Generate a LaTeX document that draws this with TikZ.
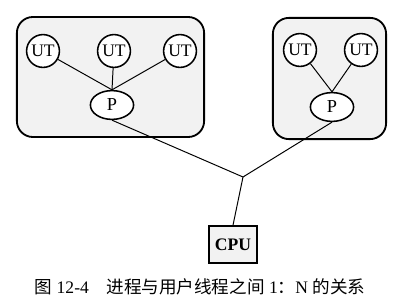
\documentclass[tikz,border=0pt]{standalone}
\usepackage{fontspec}
\setmainfont{Liberation Serif}
\newfontfamily\cjk{Noto Sans CJK SC}
\usepackage{tikz}
\usetikzlibrary{positioning,calc,shapes.geometric}
\colorlet{boxGray}{gray!10}

\begin{document}
\begin{tikzpicture}[x=0.025cm, y=-0.025cm, every node/.style={font=\fontsize{12.5}{14}\selectfont}, line width=0.7pt]
                \useasboundingbox (0,0) rectangle (414,308);
                % process boxes
                \node[draw, line width=1.3pt, rounded corners=0.4cm, fill=boxGray, minimum width=4.68cm, minimum height=3cm] (box1) at (110.5,77) {};
                \node[draw, line width=1.3pt, rounded corners=0.4cm, fill=boxGray, minimum width=2.83cm, minimum height=3.03cm] (box2) at (329.5,78.5) {};
                % user threads
                \node[draw, line width=1.1pt, circle, fill=white, minimum size=0.82cm, inner sep=0pt] (ut1) at (43,51) {UT};
                \node[draw, line width=1.1pt, circle, fill=white, minimum size=0.82cm, inner sep=0pt] (ut2) at (114,51) {UT};
                \node[draw, line width=1.1pt, circle, fill=white, minimum size=0.82cm, inner sep=0pt] (ut3) at (180,51) {UT};
                \node[draw, line width=1.1pt, circle, fill=white, minimum size=0.82cm, inner sep=0pt] (ut4) at (300,50) {UT};
                \node[draw, line width=1.1pt, circle, fill=white, minimum size=0.82cm, inner sep=0pt] (ut5) at (361,50) {UT};
                % processes
                \node[draw, line width=1.1pt, ellipse, fill=white, minimum width=1.08cm, minimum height=0.72cm, inner sep=0pt, font=\fontsize{13}{15}\selectfont] (p1) at (112,105) {P};
                \node[draw, line width=1.1pt, ellipse, fill=white, minimum width=1.08cm, minimum height=0.72cm, inner sep=0pt, font=\fontsize{13}{15}\selectfont] (p2) at (332,107) {P};
                \node[draw, line width=1.3pt, fill=boxGray, minimum width=1.2cm, minimum height=0.92cm, inner sep=0pt, font=\fontsize{12.5}{15}\selectfont] (cpu) at (233,244.5) {\textbf{CPU}};
                \coordinate (j) at (243,177);
                \foreach \u in {ut1,ut2,ut3} \draw (\u) -- (p1.north);
                \foreach \u in {ut4,ut5} \draw (\u) -- (p2.north);
                \draw (p1.south) -- (j) -- (p2.south);
                \draw (j) -- (cpu.north);
                \node[font=\fontsize{12.5}{15}\selectfont] (cap) at (200,287) {{\cjk 图} 12-4\quad{\cjk 进程与用户线程之间} 1{\cjk ：}N {\cjk 的关系}};
            \end{tikzpicture}
\end{document}
